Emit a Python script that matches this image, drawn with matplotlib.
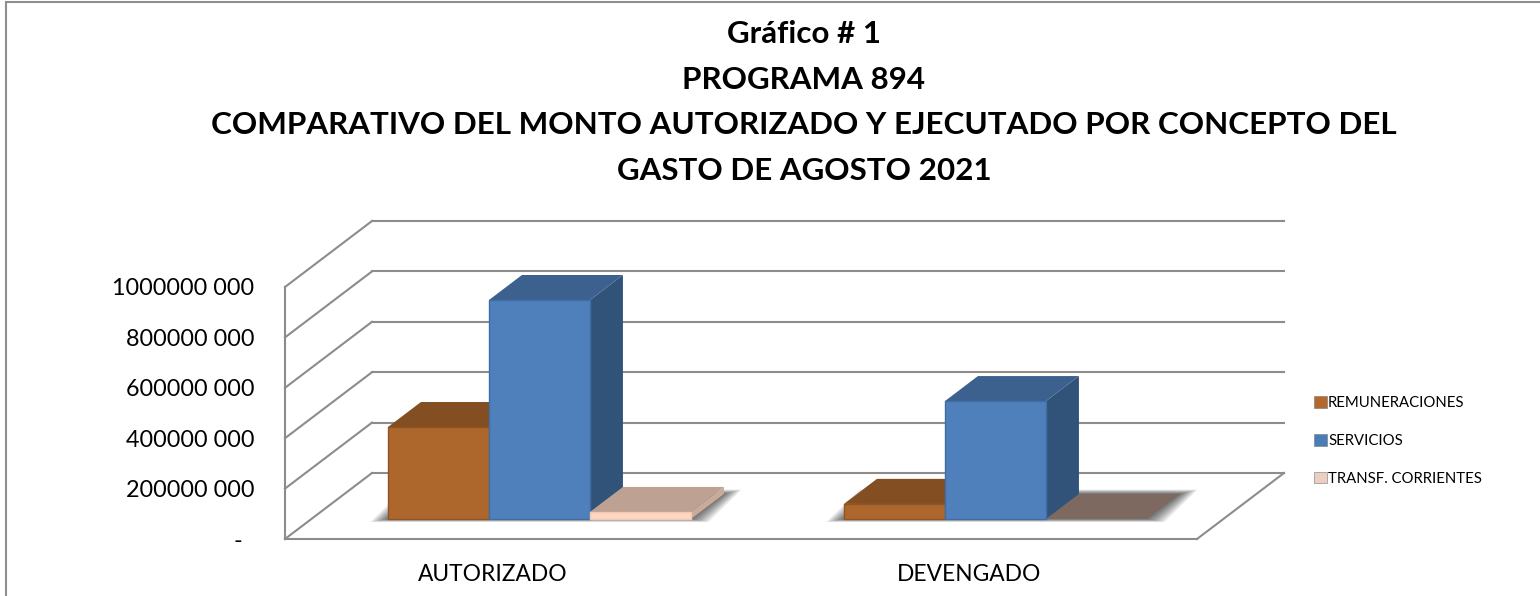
import matplotlib
matplotlib.use('Agg')
import matplotlib.pyplot as plt
from matplotlib.patches import Polygon, Patch, Rectangle

categories = ['AUTORIZADO', 'DEVENGADO']
series = ['REMUNERACIONES', 'SERVICIOS', 'TRANSF. CORRIENTES']
remuneraciones = [365000000, 60000000]
servicios = [869000000, 468000000]
transf = [28000000, 0]
y_ticks = [0, 200000000, 400000000, 600000000, 800000000, 1000000000]
y_labels = ['-\u00a0\u00a0', '200000 000', '400000 000', '600000 000', '800000 000', '1000000 000']
title = 'Gráfico # 1\nPROGRAMA 894\nCOMPARATIVO DEL MONTO AUTORIZADO Y EJECUTADO POR CONCEPTO DEL\nGASTO DE AGOSTO 2021'

# front, top, side, edge
colors = {
    'REMUNERACIONES': ('#AD672C', '#834F22', '#834F22', '#8F5424'),
    'SERVICIOS': ('#4F80BC', '#3C618F', '#31537A', '#3F6EA6'),
    'TRANSF. CORRIENTES': ('#FFD6BF', '#BDA293', '#C9AB9A', '#F2C8B0'),
}
legend_colors = ['#B5682B', '#4A7DB8', '#EBCFC0']
grid = '#8C8C8C'
W, H = 1540, 596

plt.rcParams['font.family'] = ['Lato', 'DejaVu Sans']
fig = plt.figure(figsize=(W / 100, H / 100), dpi=100)

# outer frame of the chart, goes off the bottom and the right
fig.add_artist(Rectangle((6 / W, -0.02), 1.02, 1.0 - 2.5 / H + 0.02, transform=fig.transFigure,
                         fill=False, ec='#8E8E8E', lw=1.5))

# axes = front plane of the 3d box
ax = fig.add_axes([285 / W, 1 - 539 / H, 912 / W, 252 / H])
ax.set_xlim(0, 2)
ax.set_ylim(0, 1000000000)

# depth of the floor, in data units
DX = 87 / 456
DY = 66 / 252 * 1000000000
Z0, Z1 = 0.303, 0.682
BAR_W = 101 / 456
GAP = 0.168
PX_X = 2 / 912
PX_Y = 1000000000 / 252


def at(x, y, z):
    return (x + DX * z, y + DY * z)


def poly(pts, fc, ec='none', lw=0, zorder=3, alpha=None):
    p = Polygon(pts, closed=True, fc=fc, ec=ec, lw=lw, zorder=zorder, alpha=alpha,
                clip_on=False, joinstyle='round')
    ax.add_patch(p)
    return p


# walls and floor
for t in y_ticks:
    back = at(2, t, 1)
    start = at(0, t, 1)
    ax.plot([0, start[0]], [t, start[1]], color=grid, lw=1.5, clip_on=False, zorder=1)
    ax.plot([start[0], back[0]], [start[1], back[1]], color=grid, lw=1.5, clip_on=False, zorder=1)
ax.plot([2, at(2, 0, 1)[0]], [0, at(2, 0, 1)[1]], color=grid, lw=1.5, clip_on=False, zorder=1)

# soft shadow on the floor, one per group, spreads mostly sideways
for i in range(2):
    x0 = i + GAP
    x1 = x0 + 3 * BAR_W
    for k in range(1, 19):
        a = x0 - k * PX_X
        b = x1 + k * PX_X
        low = -k * 0.17 * PX_Y
        high = k * 0.25 * PX_Y
        pts = [at(a, low, Z0), at(b, low, Z0), at(b, high, Z1), at(a, high, Z1)]
        poly(pts, '#000000', zorder=2, alpha=0.04)

# bars
for i in range(2):
    for j, (name, vals) in enumerate(zip(series, [remuneraciones, servicios, transf])):
        x0 = i + GAP + j * BAR_W
        x1 = x0 + BAR_W
        h = vals[i]
        front, top, side, edge = colors[name]
        if h == 0:
            poly([at(x0, 0, Z0), at(x1, 0, Z0), at(x1, 0, Z1), at(x0, 0, Z1)], '#7D6960', zorder=4)
            continue
        poly([at(x1, 0, Z0), at(x1, 0, Z1), at(x1, h, Z1), at(x1, h, Z0)], side, zorder=4 + j)
        poly([at(x0, h, Z0), at(x1, h, Z0), at(x1, h, Z1), at(x0, h, Z1)], top, zorder=4 + j)
        poly([at(x0, 0, Z0), at(x1, 0, Z0), at(x1, h, Z0), at(x0, h, Z0)], front, ec=edge, lw=1.0, zorder=4 + j)

# axis
for s in ['top', 'right']:
    ax.spines[s].set_visible(False)
for s in ['left', 'bottom']:
    ax.spines[s].set_color(grid)
    ax.spines[s].set_linewidth(1.5)
ax.set_yticks(y_ticks)
ax.set_yticklabels(y_labels, fontsize=16.8, color='black')
ax.set_xticks([0.455, 1.5])
ax.set_xticklabels(categories, fontsize=16.4, color='black')
ax.tick_params(axis='both', length=0)
ax.tick_params(axis='y', pad=22)
ax.tick_params(axis='x', pad=18)
ax.patch.set_visible(False)

# title
fig.text(804 / W, 1 - 102.5 / H, title, ha='center', va='center', fontsize=22.6, fontweight='bold',
         linespacing=1.76, color='black')

# legend
handles = [Patch(fc=c, ec='#777777', lw=0.4) for c in legend_colors]
fig.legend(handles, series, loc='center left', bbox_to_anchor=(1314 / W, 1 - 441 / H), frameon=False,
           fontsize=10.7, handlelength=0.85, handleheight=0.85, handletextpad=0.1, labelspacing=1.58,
           borderpad=0, borderaxespad=0)

fig.savefig('out.png', dpi=100)
